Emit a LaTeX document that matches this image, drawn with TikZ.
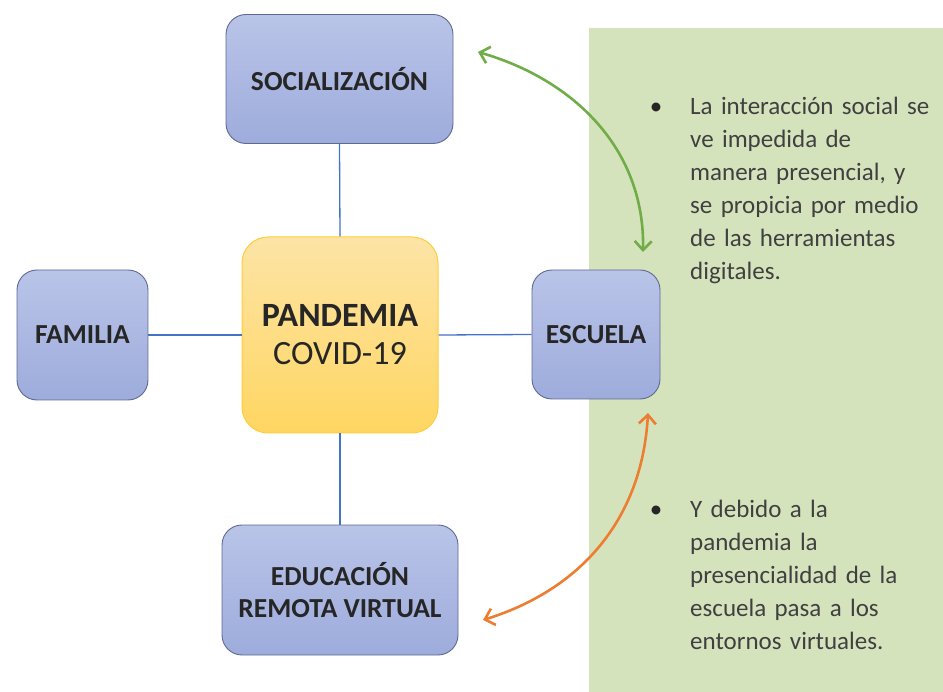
\documentclass[tikz,border=0pt]{standalone}
\usepackage{fontspec}
\setmainfont{Carlito}
\usetikzlibrary{arrows.meta}
\definecolor{panelgreen}{RGB}{213,227,189}
\definecolor{boxtop}{RGB}{185,196,232}
\definecolor{boxbot}{RGB}{158,172,220}
\definecolor{boxline}{RGB}{95,105,145}
\definecolor{yeltop}{RGB}{253,228,166}
\definecolor{yelbot}{RGB}{255,214,98}
\definecolor{yelline}{RGB}{255,205,60}
\definecolor{linkblue}{RGB}{68,114,196}
\definecolor{arrgreen}{RGB}{112,173,71}
\definecolor{arrorange}{RGB}{237,125,49}
\definecolor{boxtext}{RGB}{38,38,38}
\definecolor{bultext}{RGB}{64,64,64}
\tikzset{
  bluebox/.style={draw=boxline, line width=0.9pt, top color=boxtop, bottom color=boxbot,
    rounded corners=20pt, inner sep=0pt, align=center, text=boxtext,
    font=\fontsize{27.5}{32}\selectfont\bfseries},
  yelbox/.style={draw=yelline, line width=1pt, top color=yeltop, bottom color=yelbot,
    rounded corners=26pt, inner sep=0pt, align=center, text=boxtext,
    font=\fontsize{34}{38}\selectfont},
  link/.style={draw=linkblue, line width=1.3pt},
  curvearrow/.style={line width=2.6pt, {Straight Barb[length=9pt,width=17pt]}-{Straight Barb[length=9pt,width=17pt]}},
  bultxt/.style={anchor=base west, inner sep=0pt, text width=270pt, align=left, text=bultext,
    font=\fontsize{25}{33}\selectfont},
  bulmark/.style={anchor=base, inner sep=0pt, text=boxtext, font=\fontsize{25}{33}\selectfont}
}
\begin{document}
\begin{tikzpicture}[x=1pt,y=-1pt]
\useasboundingbox (0,0) rectangle (943,692);
\fill[panelgreen] (589,28) rectangle (943,692);

\node[bluebox, minimum width=227pt, minimum height=129pt] (soc) at (339.5,79) {SOCIALIZACIÓN};
\node[yelbox, minimum width=196pt, minimum height=196pt] (pan) at (340,335)
  {\textbf{PANDEMIA}\\COVID-19};
\node[bluebox, minimum width=131pt, minimum height=130pt] (fam) at (82.5,335) {FAMILIA};
\node[bluebox, minimum width=128pt, minimum height=129pt] (esc) at (596,334.5) {ESCUELA};
\node[bluebox, minimum width=236pt, minimum height=130pt] (edu) at (340,590) {EDUCACIÓN\\REMOTA VIRTUAL};

\draw[link] (soc.south) -- (pan.north);
\draw[link] (fam.east) -- (pan.west);
\draw[link] (pan.east) -- (esc.west);
\draw[link] (pan.south) -- (edu.north);

\coordinate (g1) at (478,52);
\coordinate (g2) at (643,252);
\coordinate (o1) at (648,413);
\coordinate (o2) at (483,620);
\draw[curvearrow, arrgreen] (g1) .. controls (575,80) and (645,150) .. (g2);
\draw[curvearrow, arrorange] (o1) .. controls (642,520) and (580,590) .. (o2);

\node[bulmark] (b1) at (656,115) {•};
\node[bultxt] (t1) at (690,115) {La interacción social se\\ve impedida de\\manera presencial, y\\se propicia por medio\\de las herramientas\\digitales.};
\node[bulmark] (b2) at (656,518) {•};
\node[bultxt] (t2) at (690,518) {Y debido a la\\pandemia la\\presencialidad de la\\escuela pasa a los\\entornos virtuales.};
\end{tikzpicture}
\end{document}
